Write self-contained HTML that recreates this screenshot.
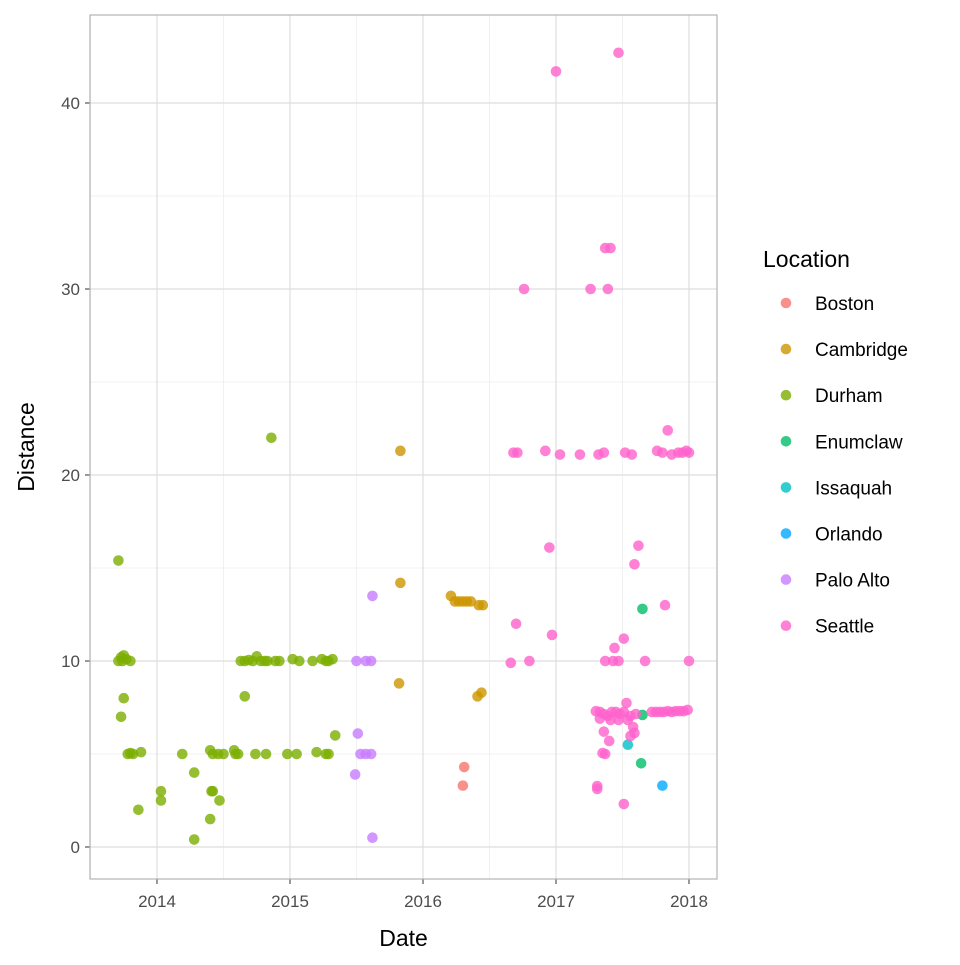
<!DOCTYPE html>
<html><head><meta charset="utf-8"><style>
body{margin:0;background:#fff;font-family:"Liberation Sans",sans-serif}
svg text{font-family:"Liberation Sans",sans-serif}
</style></head><body>
<svg id="chart" width="960" height="960" xmlns="http://www.w3.org/2000/svg"></svg>
<script>
const locations=["Boston","Cambridge","Durham","Enumclaw","Issaquah","Orlando","Palo Alto","Seattle"];
const colors=["#F8766D","#CD9600","#7CAE00","#00BE67","#00BFC4","#00A9FF","#C77CFF","#FF61CC"];
const bostonDates=[2016.31,2016.30];
const bostonDist=[4.3,3.3];
const cambridgeDates=[2015.83,2015.83,2015.82,2016.21,2016.24,2016.27,2016.30,2016.33,2016.36,2016.42,2016.45,2016.44,2016.41];
const cambridgeDist=[21.3,14.2,8.8,13.5,13.2,13.2,13.2,13.2,13.2,13.0,13.0,8.3,8.1];
const durhamDates=[2013.71,2013.71,2013.73,2013.75,2013.77,2013.80,2013.74,2013.75,2013.73,2013.78,2013.80,2013.82,2013.88,2013.86,2014.03,2014.03,2014.19,2014.28,2014.28,2014.40,2014.42,2014.46,2014.50,2014.41,2014.42,2014.40,2014.47,2014.58,2014.59,2014.61,2014.63,2014.66,2014.69,2014.72,2014.66,2014.75,2014.78,2014.81,2014.83,2014.74,2014.82,2014.89,2014.92,2014.86,2014.98,2015.05,2015.02,2015.07,2015.17,2015.24,2015.27,2015.29,2015.32,2015.20,2015.27,2015.29,2015.34];
const durhamDist=[15.4,10.0,10.2,10.3,10.1,10.0,10.0,8.0,7.0,5.0,5.05,5.0,5.1,2.0,3.0,2.5,5.0,4.0,0.4,5.2,5.0,5.0,5.0,3.0,3.0,1.5,2.5,5.2,5.0,5.0,10.0,10.0,10.05,10.0,8.1,10.25,10.0,10.0,10.0,5.0,5.0,10.0,10.0,22.0,5.0,5.0,10.1,10.0,10.0,10.1,10.0,10.0,10.1,5.1,5.0,5.0,6.0];
const enumclawDates=[2017.65,2017.65,2017.64];
const enumclawDist=[12.8,7.1,4.5];
const issaquahDates=[2017.54];
const issaquahDist=[5.5];
const orlandoDates=[2017.80];
const orlandoDist=[3.3];
const paloaltoDates=[2015.62,2015.50,2015.57,2015.61,2015.51,2015.53,2015.57,2015.61,2015.49,2015.62];
const paloaltoDist=[13.5,10.0,10.0,10.0,6.1,5.0,5.0,5.0,3.9,0.5];
const seattleDates=[2017.00,2017.47,2016.76,2017.26,2017.39,2017.37,2017.41,2016.68,2016.71,2016.92,2017.03,2017.18,2017.32,2017.36,2017.52,2017.57,2017.76,2017.80,2017.84,2017.87,2017.92,2017.95,2017.98,2018.00,2016.95,2017.62,2017.59,2016.70,2016.97,2017.82,2017.51,2017.44,2016.66,2016.80,2017.37,2017.43,2017.47,2017.67,2018.00,2017.30,2017.33,2017.36,2017.39,2017.42,2017.45,2017.48,2017.51,2017.56,2017.60,2017.72,2017.75,2017.78,2017.81,2017.84,2017.87,2017.90,2017.93,2017.96,2017.99,2017.53,2017.36,2017.40,2017.37,2017.35,2017.58,2017.59,2017.51,2017.31,2017.31,2017.41,2017.47,2017.54,2017.56,2017.33];
const seattleDist=[41.7,42.7,30.0,30.0,30.0,32.2,32.2,21.2,21.2,21.3,21.1,21.1,21.1,21.2,21.2,21.1,21.3,21.2,22.4,21.1,21.2,21.2,21.3,21.2,16.1,16.2,15.2,12.0,11.4,13.0,11.2,10.7,9.9,10.0,10.0,10.0,10.0,10.0,10.0,7.3,7.26,7.15,7.04,7.26,7.26,7.15,7.26,7.04,7.15,7.26,7.26,7.26,7.26,7.3,7.26,7.3,7.3,7.3,7.37,7.74,6.2,5.7,5.0,5.05,6.45,6.13,2.31,3.28,3.12,6.83,6.83,6.83,5.97,6.9];
const allDates=[bostonDates,cambridgeDates,durhamDates,enumclawDates,issaquahDates,orlandoDates,paloaltoDates,seattleDates];
const allDist=[bostonDist,cambridgeDist,durhamDist,enumclawDist,issaquahDist,orlandoDist,paloaltoDist,seattleDist];
const xTicks=[2014,2015,2016,2017,2018];
const yTicks=[0,10,20,30,40];

const NS="http://www.w3.org/2000/svg";
const svg=document.getElementById('chart');
const L=90,R=717,T=15,B=879;
const x=v=>157+(v-2014)*133;
const y=v=>847-v*18.6;
function el(tag,attrs,parent){const e=document.createElementNS(NS,tag);for(const k in attrs)e.setAttribute(k,attrs[k]);(parent||svg).appendChild(e);return e;}
const grid=el('g',{});


for(let v=5;v<45;v+=10){el('line',{x1:L,x2:R,y1:y(v),y2:y(v),stroke:'#ebebeb','stroke-width':0.7},grid);}
for(let v=2013.5;v<2018.5;v+=1){el('line',{x1:x(v),x2:x(v),y1:T,y2:B,stroke:'#ebebeb','stroke-width':0.7},grid);}
yTicks.forEach(v=>{el('line',{x1:L,x2:R,y1:y(v),y2:y(v),stroke:'#dedede','stroke-width':1.2},grid);
 const t=el('text',{x:80,y:y(v)+6,'text-anchor':'end','font-size':17,fill:'#4d4d4d'});t.textContent=v;
 
 
 el('line',{x1:85,x2:L,y1:y(v),y2:y(v),stroke:'#333','stroke-width':1});});
xTicks.forEach(v=>{el('line',{x1:x(v),x2:x(v),y1:T,y2:B,stroke:'#dedede','stroke-width':1.2},grid);
 const t=el('text',{x:x(v),y:907,'text-anchor':'middle','font-size':17,fill:'#4d4d4d'});t.textContent=v;
 
 
 el('line',{x1:x(v),x2:x(v),y1:B,y2:B+5,stroke:'#333','stroke-width':1});});
const pts=el('g',{});


allDates.forEach((ds,i)=>ds.forEach((d,j)=>{
 const c=el('circle',{cx:x(d),cy:y(allDist[i][j]),r:5.3,fill:colors[i],'fill-opacity':0.8},pts);
 
 
}));
const border=el('rect',{x:L,y:T,width:R-L,height:B-T,fill:'none',stroke:'#b3b3b3','stroke-width':1.2});


const xt=el('text',{x:(L+R)/2,y:946,'text-anchor':'middle','font-size':23,fill:'#000'});xt.textContent='Date';


const yt=el('text',{x:0,y:0,'text-anchor':'middle','font-size':23,fill:'#000',transform:'translate(34,'+(T+B)/2+') rotate(-90)'});yt.textContent='Distance';


const lt=el('text',{x:763,y:267,'font-size':23,fill:'#000'});lt.textContent='Location';


locations.forEach((n,i)=>{
 const g=el('g',{});
 
 
 const cy=303+i*46.1;
 el('circle',{cx:786,cy:cy,r:5.3,fill:colors[i],'fill-opacity':0.8},g);
 const t=el('text',{x:815,y:cy+7,'font-size':19,fill:'#000'},g);t.textContent=n;
});
</script>
</body></html>
